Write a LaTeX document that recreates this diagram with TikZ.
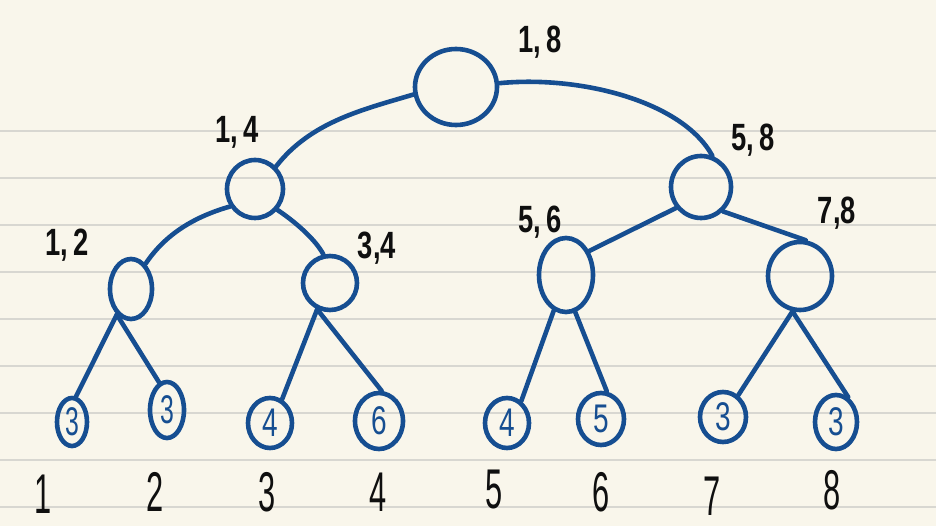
\documentclass[tikz,border=0pt]{standalone}
\usepackage{fontspec}
\usepackage{graphicx}
\setmainfont{Liberation Sans}
\usetikzlibrary{shapes.geometric}
\definecolor{paper}{RGB}{249,246,235}
\definecolor{rule}{RGB}{216,215,209}
\definecolor{ink}{RGB}{22,78,145}
\definecolor{pen}{RGB}{15,15,15}
\newcommand{\hw}[2][0.68]{\scalebox{#1}[1]{#2}}
\tikzset{
  seg/.style={draw=ink, line width=4.6pt, ellipse, inner sep=0pt},
  leaf/.style={seg, text=ink, font=\fontsize{40}{40}\selectfont},
  edge/.style={draw=ink, line width=4.6pt, line cap=round},
  lbl/.style={text=pen, font=\bfseries\fontsize{38}{38}\selectfont, inner sep=0pt},
  idx/.style={text=pen, font=\fontsize{56}{56}\selectfont, inner sep=0pt},
}
\begin{document}
\begin{tikzpicture}[x=1pt, y=-1pt]
  % paper and ruling
  \fill[paper] (0,0) rectangle (936,526);
  \useasboundingbox (0,0) rectangle (936,526);
  \foreach \r in {131,178,...,507}
    \draw[rule, line width=1.4pt] (0,\r) -- (936,\r);

  % internal nodes
  \node[seg, minimum width=82pt, minimum height=76pt] (root) at (456,87) {};
  \node[seg, minimum width=56pt, minimum height=58pt] (n14) at (255,189) {};
  \node[seg, minimum width=60pt, minimum height=62pt] (n58) at (701,187) {};
  \node[seg, minimum width=42pt, minimum height=60pt] (n12) at (131,289) {};
  \node[seg, minimum width=54pt, minimum height=54pt] (n34) at (330,283) {};
  \node[seg, minimum width=54pt, minimum height=74pt] (n56) at (566,275) {};
  \node[seg, minimum width=64pt, minimum height=68pt] (n78) at (800,276) {};

  % leaves
  \node[leaf, minimum width=30pt, minimum height=48pt] (l1) at (72,422) {\hw[0.62]{3}};
  \node[leaf, minimum width=34pt, minimum height=56pt] (l2) at (167,410) {\hw[0.62]{3}};
  \node[leaf, minimum width=44pt, minimum height=50pt] (l3) at (270,423) {\hw[0.7]{4}};
  \node[leaf, minimum width=48pt, minimum height=56pt] (l4) at (379,421) {\hw[0.7]{6}};
  \node[leaf, minimum width=44pt, minimum height=50pt] (l5) at (507,423) {\hw[0.7]{4}};
  \node[leaf, minimum width=46pt, minimum height=52pt] (l6) at (601,419) {\hw[0.7]{5}};
  \node[leaf, minimum width=46pt, minimum height=50pt] (l7) at (723,417) {\hw[0.7]{3}};
  \node[leaf, minimum width=42pt, minimum height=54pt] (l8) at (836,422) {\hw[0.7]{3}};

  % range labels
  \node[lbl] (t18) at (540,42) {\hw[0.72]{1,\,8}};
  \node[lbl] (t14) at (237,132) {\hw[0.72]{1,\,4}};
  \node[lbl] (t58) at (753,140) {\hw[0.72]{5,\,8}};
  \node[lbl] (t12) at (67,245) {\hw[0.72]{1,\,2}};
  \node[lbl] (t34) at (377,248) {\hw[0.72]{3,4}};
  \node[lbl] (t56) at (540,222) {\hw[0.72]{5,\,6}};
  \node[lbl] (t78) at (837,213) {\hw[0.72]{7,8}};

  % positions
  \node[idx] (b1) at (43,494) {\hw[0.55]{1}};
  \node[idx] (b2) at (155,492) {\hw[0.55]{2}};
  \node[idx] (b3) at (267,492) {\hw[0.55]{3}};
  \node[idx] (b4) at (378,492) {\hw[0.55]{4}};
  \node[idx] (b5) at (494,490) {\hw[0.55]{5}};
  \node[idx] (b6) at (601,492) {\hw[0.55]{6}};
  \node[idx] (b7) at (712,496) {\hw[0.55]{7}};
  \node[idx] (b8) at (832,490) {\hw[0.55]{8}};

  % upper edges
  \draw[edge] (root.190) .. controls +(-50,15) and +(35,-45) .. (n14.47);
  \draw[edge] (root.5) .. controls +(80,-8) and +(-30,-55) .. (n58.70);
  \draw[edge] (n14.215) .. controls +(-35,10) and +(20,-30) .. (n12.60);
  \draw[edge] (n14.317) .. controls +(18,12) and +(-8,-15) .. (n34.103);
  \draw[edge] (n58.220) -- (n56.46);
  \draw[edge] (n58.312) -- (n78.81);

  % leaf edges
  \draw[edge] (n12.241) -- (l1.81);
  \draw[edge] (n12.241) -- (l2.106);
  \draw[edge] (n34.244) -- (l3.63);
  \draw[edge] (n34.244) -- (l4.85);
  \draw[edge] (n56.251) -- (l5.57);
  \draw[edge] (n56.284) -- (l6.78);
  \draw[edge] (n78.258) -- (l7.55);
  \draw[edge] (n78.258) -- (l8.64);
\end{tikzpicture}
\end{document}
